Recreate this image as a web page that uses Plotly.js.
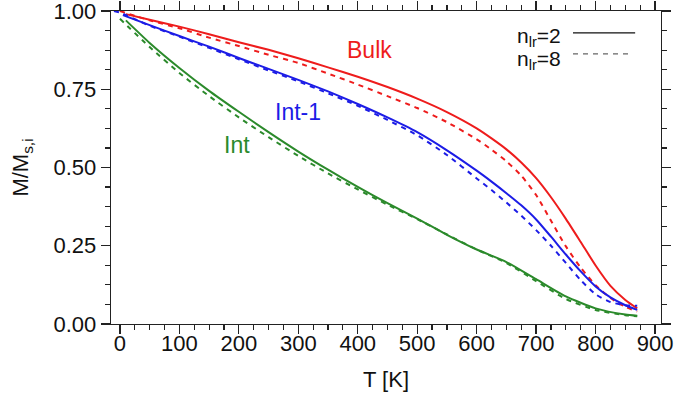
<!DOCTYPE html>
<html>
<head>
<meta charset="utf-8">
<script src="https://cdn.plot.ly/plotly-3.0.1.min.js"></script>
<style>html,body{margin:0;padding:0;background:#fff;}#chart{width:685px;height:409px;}</style>
</head>
<body>
<div id="chart"></div>
<script>
// Temperatures (K) and reduced magnetisation M/Ms,i
const T_bulk2 = [10, 50, 100, 150, 200, 250, 300, 350, 400, 450, 500, 550, 600, 625, 650, 675, 700, 725, 750, 775, 800, 825, 850, 870];
const M_bulk2 = [0.99, 0.972, 0.95, 0.926, 0.90, 0.876, 0.849, 0.82, 0.79, 0.757, 0.72, 0.677, 0.625, 0.593, 0.558, 0.516, 0.466, 0.405, 0.336, 0.262, 0.187, 0.122, 0.077, 0.05];

const T_bulk8 = [0, 50, 100, 150, 200, 250, 300, 350, 400, 450, 500, 550, 600, 625, 650, 675, 700, 725, 750, 775, 800, 825, 850, 870];
const M_bulk8 = [1.0, 0.97, 0.945, 0.915, 0.888, 0.86, 0.834, 0.80, 0.765, 0.728, 0.69, 0.645, 0.59, 0.557, 0.52, 0.474, 0.412, 0.33, 0.248, 0.18, 0.124, 0.083, 0.055, 0.04];

const T_int1_2 = [5, 50, 100, 150, 200, 250, 300, 350, 400, 450, 500, 550, 600, 625, 650, 675, 700, 725, 750, 775, 800, 825, 850, 870];
const M_int1_2 = [0.987, 0.955, 0.92, 0.886, 0.85, 0.815, 0.78, 0.743, 0.703, 0.66, 0.613, 0.555, 0.49, 0.455, 0.418, 0.379, 0.334, 0.279, 0.222, 0.168, 0.12, 0.085, 0.06, 0.045];

const T_int1_8 = [-10, 0, 50, 100, 150, 200, 250, 300, 350, 400, 450, 500, 550, 600, 625, 650, 675, 700, 725, 750, 775, 800, 825, 850, 870];
const M_int1_8 = [1.0, 0.995, 0.953, 0.918, 0.882, 0.846, 0.81, 0.775, 0.737, 0.697, 0.652, 0.603, 0.54, 0.465, 0.428, 0.388, 0.346, 0.30, 0.25, 0.195, 0.14, 0.095, 0.07, 0.06, 0.058];

const T_int2 = [10, 50, 100, 150, 200, 250, 300, 350, 400, 450, 500, 550, 600, 650, 700, 750, 800, 850, 870];
const M_int2 = [0.97, 0.898, 0.818, 0.745, 0.678, 0.613, 0.551, 0.493, 0.438, 0.386, 0.337, 0.285, 0.238, 0.198, 0.143, 0.088, 0.05, 0.03, 0.026];

const T_int8 = [0, 50, 100, 150, 200, 250, 300, 350, 400, 450, 500, 550, 600, 650, 700, 750, 800, 850, 870];
const M_int8 = [0.975, 0.885, 0.802, 0.728, 0.66, 0.597, 0.537, 0.481, 0.43, 0.381, 0.335, 0.286, 0.238, 0.195, 0.137, 0.08, 0.045, 0.028, 0.025];

const xTicks = [0, 100, 200, 300, 400, 500, 600, 700, 800, 900];
const yTicks = [0.00, 0.25, 0.50, 0.75, 1.00];
const yTickText = ['0.00', '0.25', '0.50', '0.75', '1.00'];

const RED = '#ee1c1c', BLUE = '#1c1ce6', GREEN = '#2b8a2b';
const DASH = '5px,5px';
const FONT = 'Liberation Sans, Arial, Helvetica, sans-serif';

function tr(x, y, color, dash) {
  return {x: x, y: y, type: 'scatter', mode: 'lines', showlegend: false, hoverinfo: 'skip',
          line: {color: color, width: 2, dash: dash, shape: 'spline', smoothing: 0.6}};
}

const data = [
  tr(T_bulk2, M_bulk2, RED, 'solid'),
  tr(T_bulk8, M_bulk8, RED, DASH),
  tr(T_int1_2, M_int1_2, BLUE, 'solid'),
  tr(T_int1_8, M_int1_8, BLUE, DASH),
  tr(T_int2, M_int2, GREEN, 'solid'),
  tr(T_int8, M_int8, GREEN, DASH)
];

const axisCommon = {
  showline: true, linecolor: '#222', linewidth: 1.3, mirror: 'allticks',
  ticks: 'outside', ticklen: 9, tickwidth: 1.3, tickcolor: '#222',
  showgrid: false, zeroline: false, ticklabeloverflow: 'allow',
  tickfont: {family: FONT, size: 22, color: '#111'}
};

const layout = {
  width: 685, height: 409,
  margin: {l: 111, r: 24, t: 11, b: 85},
  paper_bgcolor: '#fff', plot_bgcolor: '#fff',
  xaxis: Object.assign({}, axisCommon, {
    range: [-15, 910], tickmode: 'array', tickvals: xTicks, ticktext: xTicks.map(String),
    ticklabelstandoff: -10,
    minor: {dtick: 25, tick0: 0, ticks: 'outside', ticklen: 5, tickwidth: 1.2, tickcolor: '#222'},
    title: {text: 'T [K]', font: {family: FONT, size: 22, color: '#111'}, standoff: 17}
  }),
  yaxis: Object.assign({}, axisCommon, {
    range: [0, 1], tickmode: 'array', tickvals: yTicks, ticktext: yTickText,
    minor: {dtick: 0.0625, tick0: 0, ticks: 'outside', ticklen: 5, tickwidth: 1.2, tickcolor: '#222'},
    title: {text: 'M/M<sub>s,i</sub>', font: {family: FONT, size: 22, color: '#111'}, standoff: 18}
  }),
  annotations: [
    {x: 420, y: 0.875, xref: 'x', yref: 'y', text: 'Bulk', showarrow: false, font: {family: FONT, size: 23, color: RED}},
    {x: 299, y: 0.677, xref: 'x', yref: 'y', text: 'Int-1', showarrow: false, font: {family: FONT, size: 23, color: BLUE}},
    {x: 197, y: 0.572, xref: 'x', yref: 'y', text: 'Int', showarrow: false, font: {family: FONT, size: 23, color: GREEN}},
    {x: 0.822, y: 0.918, xref: 'paper', yref: 'paper', xanchor: 'right', yanchor: 'middle', text: 'n<sub>lr</sub>=2', showarrow: false, font: {family: FONT, size: 21, color: '#111'}},
    {x: 0.822, y: 0.845, xref: 'paper', yref: 'paper', xanchor: 'right', yanchor: 'middle', text: 'n<sub>lr</sub>=8', showarrow: false, font: {family: FONT, size: 21, color: '#111'}}
  ],
  shapes: [
    {type: 'line', xref: 'paper', yref: 'paper', x0: 0.84, x1: 0.953, y0: 0.93, y1: 0.93, line: {color: '#111', width: 1.3}},
    {type: 'line', xref: 'paper', yref: 'paper', x0: 0.84, x1: 0.94, y0: 0.863, y1: 0.863, line: {color: '#666', width: 1.2, dash: '5px,5px'}}
  ]
};

Plotly.newPlot('chart', data, layout, {displayModeBar: false, staticPlot: true});
</script>
</body>
</html>
